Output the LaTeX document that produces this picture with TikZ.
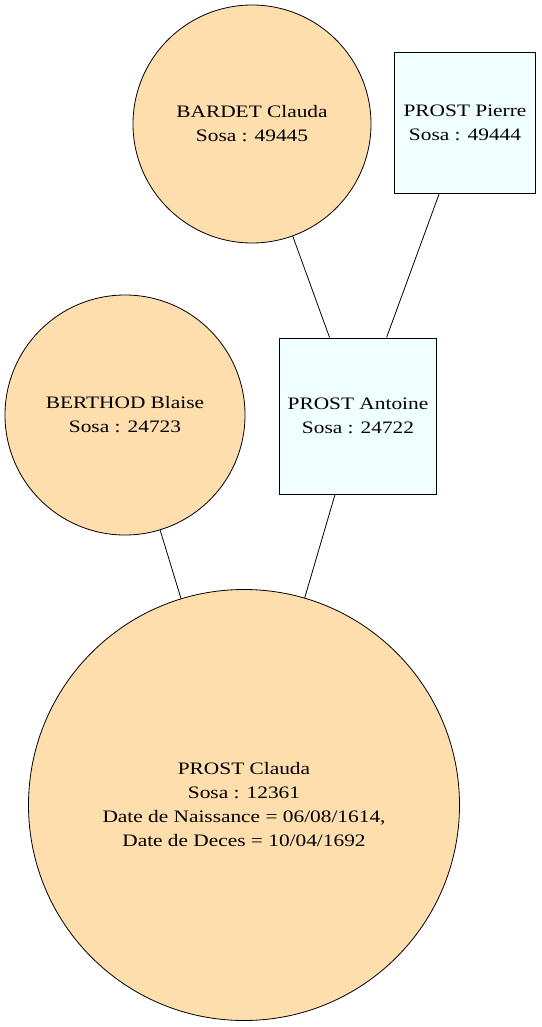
\documentclass[tikz,border=0pt]{standalone}
\usepackage{fontspec}
\setmainfont[FakeStretch=1.22]{Liberation Serif}
\definecolor{peach}{HTML}{FFDEAD}
\definecolor{azur}{HTML}{F0FFFF}
\begin{document}
\begin{tikzpicture}[x=1pt,y=-1pt,
  person/.style={draw=black, line width=0.8pt, align=center, inner sep=0pt,
    font=\fontsize{17.5}{24}\selectfont},
  fem/.style={person, circle, fill=peach},
  masc/.style={person, rectangle, fill=azur},
  edge/.style={draw=black, line width=0.8pt}]
\useasboundingbox (0,0) rectangle (541,1027);
\node[fem, minimum size=238pt] (bardet) at (252,124) {BARDET Clauda\\Sosa : 49445};
\node[masc, minimum width=141pt, minimum height=141pt] (pierre) at (465,123) {PROST Pierre\\Sosa : 49444};
\node[fem, minimum size=240pt] (blaise) at (125,415) {BERTHOD Blaise\\Sosa : 24723};
\node[masc, minimum width=157pt, minimum height=156pt] (antoine) at (358,416) {PROST Antoine\\Sosa : 24722};
\node[fem, minimum size=431pt] (claudia) at (244,805) {PROST Clauda\\Sosa : 12361\\Date de Naissance = 06/08/1614,\\Date de Deces = 10/04/1692};
\draw[edge] (bardet) -- (antoine);
\draw[edge] (pierre) -- (antoine);
\draw[edge] (blaise) -- (claudia);
\draw[edge] (antoine) -- (claudia);
\end{tikzpicture}
\end{document}
